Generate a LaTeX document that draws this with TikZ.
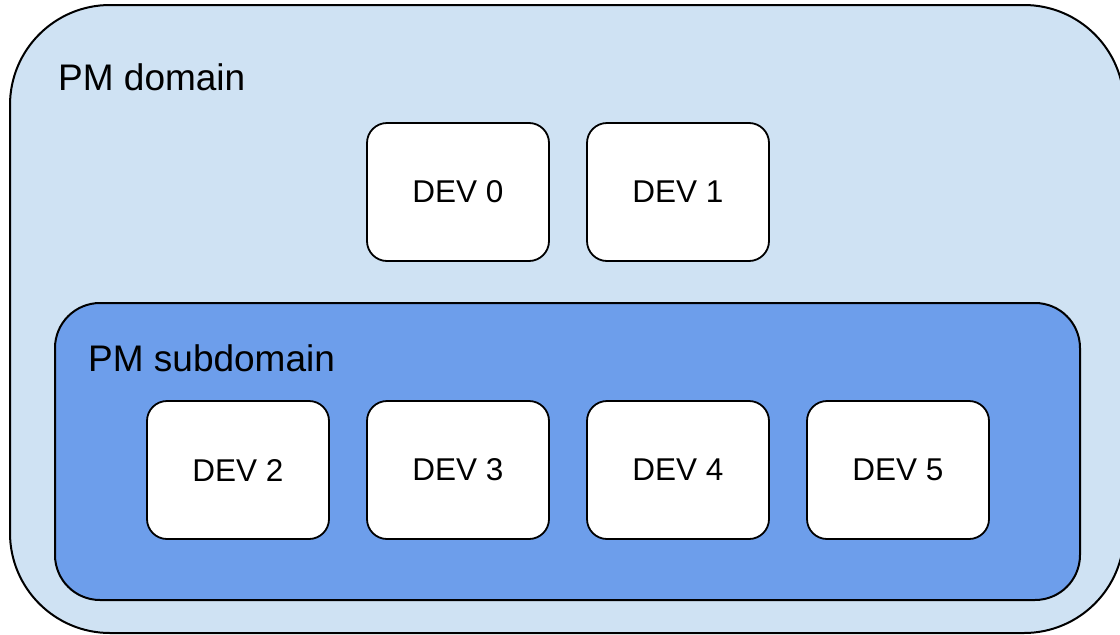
\documentclass[tikz,border=0pt]{standalone}
\usepackage{fontspec}
\setmainfont{Liberation Sans}
\definecolor{domainfill}{HTML}{CFE2F3}
\definecolor{subfill}{HTML}{6D9EEB}
\begin{document}
\begin{tikzpicture}[x=1pt,y=-1pt,
  domainbox/.style={draw=black,line width=2pt,fill=domainfill,rounded corners=100pt},
  subbox/.style={draw=black,line width=2pt,fill=subfill,rounded corners=45pt},
  devbox/.style={draw=black,line width=1.8pt,fill=white,rounded corners=20pt,
    minimum width=182pt,minimum height=138pt,inner sep=0pt,
    font=\fontsize{31.5}{36}\selectfont},
  title/.style={anchor=base west,inner sep=0pt,font=\fontsize{37}{42}\selectfont}]
\useasboundingbox (0,0) rectangle (1120,635);
\draw[domainbox] (10,5) rectangle (1124,633);
\node[title] (dom) at (58,90) {PM domain};
\draw[subbox] (55,303) rectangle (1080,600);
\node[title] (sub) at (88,371) {PM subdomain};
\node[devbox] (d0) at (458,192) {DEV 0};
\node[devbox] (d1) at (678,192) {DEV 1};
\node[devbox] (d2) at (238,470) {DEV 2};
\node[devbox] (d3) at (458,470) {DEV 3};
\node[devbox] (d4) at (678,470) {DEV 4};
\node[devbox] (d5) at (898,470) {DEV 5};
\end{tikzpicture}
\end{document}
